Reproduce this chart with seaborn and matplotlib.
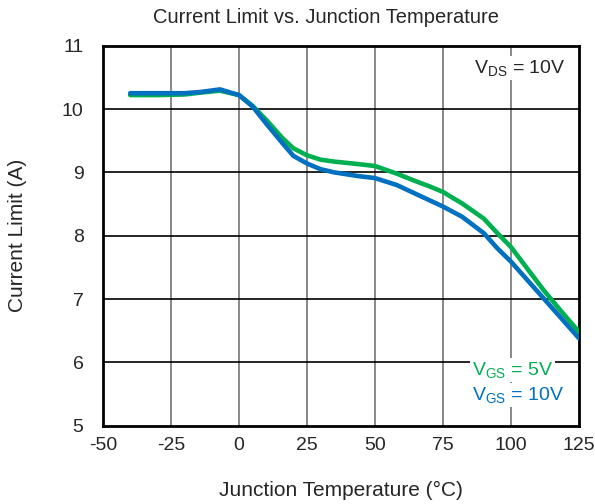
import matplotlib
matplotlib.use("Agg")
import matplotlib.pyplot as plt
import seaborn as sns
import pandas as pd

# values
temp = [-40, -30, -20, -14, -7, 0, 5, 10, 16, 20, 25, 30, 35, 44, 50, 58, 65, 70, 75, 82, 90, 95, 100, 106, 112, 118, 125]
i_5v = [10.22, 10.22, 10.23, 10.26, 10.29, 10.22, 10.05, 9.83, 9.54, 9.38, 9.27, 9.20, 9.17, 9.13, 9.10,
        8.98, 8.86, 8.78, 8.69, 8.51, 8.27, 8.04, 7.82, 7.48, 7.14, 6.83, 6.48]
i_10v = [10.25, 10.25, 10.25, 10.27, 10.31, 10.22, 10.04, 9.77, 9.46, 9.26, 9.14, 9.05, 9.00, 8.94, 8.91,
         8.80, 8.66, 8.56, 8.46, 8.30, 8.04, 7.80, 7.59, 7.30, 7.01, 6.72, 6.38]

df = pd.concat([
    pd.DataFrame({"T": temp, "I": i_5v, "cond": "5V"}),
    pd.DataFrame({"T": temp, "I": i_10v, "cond": "10V"}),
])

sns.set_style("white")
plt.rcParams['font.family'] = ['Liberation Sans', 'DejaVu Sans']
plt.rcParams['mathtext.default'] = 'regular'
plt.rcParams['axes.unicode_minus'] = False

fig = plt.figure(figsize=(5.95, 5.04), dpi=100)
ax = fig.add_axes([103 / 595, 1 - 425.7 / 504, 476 / 595, 380 / 504])

sns.lineplot(data=df, x="T", y="I", hue="cond", palette={"5V": "#00B050", "10V": "#0070C0"},
             linewidth=3.3, ax=ax, legend=False, zorder=3)

ax.set_xlim(-50, 125)
ax.set_ylim(5, 11)
ax.set_xticks(range(-50, 126, 25))
ax.set_yticks(range(5, 12))
for x in range(-25, 125, 25):
    ax.axvline(x, color="#7f7f7f", lw=1.3, zorder=1)
for y in range(6, 11):
    ax.axhline(y, color="black", lw=1.2, zorder=1)

for s in ax.spines.values():
    s.set_linewidth(2)
    s.set_color("black")
ax.tick_params(axis="x", length=0, labelsize=14, pad=8)
ax.tick_params(axis="y", length=0, labelsize=14, pad=14)

ax.set_title("Current Limit vs. Junction Temperature", fontsize=14.5, pad=16, x=0.468)
ax.set_xlabel("Junction Temperature (°C)", fontsize=15)
ax.set_ylabel("Current Limit (A)", fontsize=15)
ax.xaxis.set_label_coords(0.5, -0.146)
ax.yaxis.set_label_coords(-0.16, 0.5)

box = dict(facecolor="white", edgecolor="none", pad=1.5)
ax.text(0.971, 0.941, r"V$_{DS}$ = 10V", transform=ax.transAxes, ha="right", va="center",
        fontsize=14, bbox=box, zorder=4)
ax.text(0.775, 0.147, r"V$_{GS}$ = 5V", transform=ax.transAxes, ha="left", va="center",
        fontsize=14, color="#00B050", bbox=box, zorder=4)
ax.text(0.775, 0.08, r"V$_{GS}$ = 10V", transform=ax.transAxes, ha="left", va="center",
        fontsize=14, color="#0070C0", bbox=box, zorder=4)

fig.savefig("out.png", dpi=100)
